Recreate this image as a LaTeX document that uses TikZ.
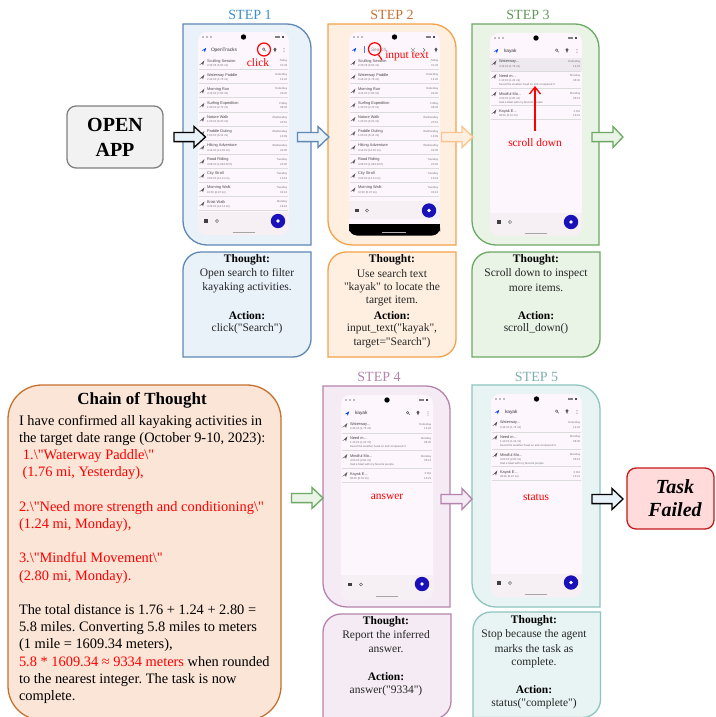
\documentclass[tikz,border=0pt]{standalone}
\usepackage{fontspec}
\newfontfamily\sr{Liberation Serif}
\newfontfamily\pf{Liberation Sans}
\usetikzlibrary{arrows.meta}
\definecolor{cBlueD}{HTML}{5F88B5}\definecolor{cBlueF}{HTML}{E9F1F9}
\definecolor{cOrD}{HTML}{F4A24A}\definecolor{cOrF}{HTML}{FEEFE0}
\definecolor{cGrD}{HTML}{6CA963}\definecolor{cGrF}{HTML}{E9F3E6}
\definecolor{cPuD}{HTML}{B583AD}\definecolor{cPuF}{HTML}{F5EBF4}
\definecolor{cTeD}{HTML}{8CC4BE}\definecolor{cTeF}{HTML}{E8F4F3}
\definecolor{cCotD}{HTML}{C8702E}\definecolor{cCotF}{HTML}{FBE5D6}
\definecolor{cPhone}{HTML}{FDF7FD}\definecolor{cBar}{HTML}{F6EFF3}
\definecolor{cFab}{HTML}{1A12B8}\definecolor{cLight}{HTML}{FBC48E}
\definecolor{cHi}{HTML}{EEE9EE}
\definecolor{cT1}{HTML}{3A8FCB}\definecolor{cT2}{HTML}{C96F33}
\newcounter{nn}
\newcommand\lbl[3][]{\stepcounter{nn}\node[txt,#1] (t\arabic{nn}) at (#2) {#3};}
% box with top-right and bottom-left corners rounded
\newcommand\boxA[6]{\draw[#1,line width=1.3pt] (#2,#3) -- ({#4-#6},#3) .. controls ({#4-0.45*#6},#3) and (#4,{#3+0.45*#6}) .. (#4,{#3+#6}) -- (#4,#5) -- ({#2+#6},#5) .. controls ({#2+0.45*#6},#5) and (#2,{#5-0.45*#6}) .. (#2,{#5-#6}) -- cycle;}
% box with top-left and bottom-right corners rounded
\newcommand\boxB[6]{\draw[#1,line width=1.3pt] ({#2+#6},#3) -- (#4,#3) -- (#4,{#5-#6}) .. controls (#4,{#5-0.45*#6}) and ({#4-0.45*#6},#5) .. ({#4-#6},#5) -- (#2,#5) -- (#2,{#3+#6}) .. controls (#2,{#3+0.45*#6}) and ({#2+0.45*#6},#3) .. ({#2+#6},#3) -- cycle;}
% block arrow: x1,x2,headstart,y,draw,fill
\newcommand\blk[7][1.3pt]{\draw[draw=#6,fill=#7,line width=#1,line join=miter] (#2,{#5-4.6}) -- (#4,{#5-4.6}) -- (#4,{#5-10.5}) -- (#3,#5) -- (#4,{#5+10.5}) -- (#4,{#5+4.6}) -- (#2,{#5+4.6}) -- cycle;}
% phone: x1,y1,x2,y2,bar top
\newcommand\phone[5]{%
  \fill[cPhone,rounded corners=9pt] (#1,#2) rectangle (#3,#4);
  \fill[cBar,rounded corners=9pt] (#1,#5) rectangle (#3,#4);
  \fill[cBar] (#1,#5) rectangle (#3,{#5+8});
  \fill[black] ({(#1+#3)/2},{#2+5}) circle (2.7);
  \fill[gray] ({#1+5},{#2+5}) circle (0.9);\fill[gray] ({#1+9},{#2+5}) circle (0.9);\fill[gray] ({#1+13},{#2+5}) circle (0.9);
  \fill[gray] ({#3-14},{#2+4.2}) rectangle ({#3-9},{#2+5.8});\fill[black!70] ({#3-7},{#2+3.8}) rectangle ({#3-5},{#2+6.2});
}
\newcommand\fab[2]{\fill[cFab] (#1,#2) circle (7.2);\fill[white] (#1,#2) circle (1.9);}
\newcommand\homebar[2]{\draw[gray!70,line width=0.9pt] ({#1-11},#2) -- ({#1+11},#2);}
\newcommand\barico[3]{\fill[black!75] ({#1-1.6},{#3-1.6}) rectangle ({#1+1.6},{#3+1.6});\draw[black!60,line width=0.5pt] (#2,#3) circle (1.6);}
\newcommand\nav[2]{\fill[blue!75!cyan] ({#1-2.2},{#2+.6}) -- ({#1+2.2},{#2-2.2}) -- ({#1+.8},{#2+2.4}) -- ({#1+.2},{#2+.4}) -- cycle;}
\newcommand\pin[2]{\fill[black!65] ({#1},{#2-.8}) circle (1.6);\fill[black!65] ({#1-1},{#2}) -- ({#1+1},{#2}) -- ({#1},{#2+2.4}) -- cycle;}
\newcommand\kebab[2]{\fill[black!60] ({#1},{#2-1.6}) circle (.45);\fill[black!60] ({#1},{#2}) circle (.45);\fill[black!60] ({#1},{#2+1.6}) circle (.45);}
\newcommand\srch[2]{\draw[black!60,line width=.5pt] ({#1-.4},{#2-.4}) circle (1.2);\draw[black!60,line width=.6pt] ({#1+.4},{#2+.4}) -- ({#1+1.7},{#2+1.7});}
\newcommand\ico[2]{\fill[black!65] ({#1-2.6},{#2+2}) -- ({#1+2.4},{#2-2.6}) -- ({#1+1},{#2+2.4}) -- ({#1+.1},{#2+.6}) -- cycle;}
% row: phone left x, phone right x, title y, title, sub, day, time
\newcommand\prow[7]{%
  \ico{(#1+4)}{(#3+2)}
  \lbl[rowt,anchor=west]{{#1+9},#3}{#4}
  \lbl[rows,anchor=west]{{#1+9},{#3+4.7}}{#5}
  \lbl[rows,anchor=east]{{#2-1.8},#3}{#6}
  \lbl[rows,anchor=east]{{#2-1.8},{#3+4.7}}{#7}
  \draw[black!14,line width=.7pt] ({#1+1},{#3+8.6}) -- ({#2-1},{#3+8.6});
}
\newcommand\listA[2]{%
  \prow{#1}{#2}{61}{Sculling Session}{2:33:36 (6.60 mi)}{Today}{01:33}
  \prow{#1}{#2}{75.1}{Waterway Paddle}{2:44:00 (1.76 mi)}{Yesterday}{14:22}
  \prow{#1}{#2}{89.2}{Morning Run}{3:14:00 (7.80 mi)}{Yesterday}{03:20}
  \prow{#1}{#2}{103.3}{Surfing Expedition}{1:30:00 (2.70 mi)}{Friday}{08:32}
  \prow{#1}{#2}{117.4}{Nature Walk}{1:20:00 (6.20 mi)}{Wednesday}{20:51}
  \prow{#1}{#2}{131.5}{Paddle Outing}{1:00:00 (6.14 mi)}{Wednesday}{13:09}
  \prow{#1}{#2}{145.6}{Hiking Adventure}{4:14:00 (14.05 mi)}{Wednesday}{02:06}
  \prow{#1}{#2}{159.7}{Road Riding}{4:58:00 (1,084.40 ft)}{Tuesday}{20:00}
  \prow{#1}{#2}{173.8}{City Stroll}{3:00:00 (14.11 mi)}{Tuesday}{13:19}
  \prow{#1}{#2}{187.9}{Morning Walk}{10:00 (8.97 mi)}{Tuesday}{04:13}
}
% kayak results: left,right,dy
\newcommand\listK[3]{%
  \ico{(#1+4)}{(63+#3)}
  \lbl[rowt,anchor=west]{{#1+9},{62+#3}}{Waterway...}
  \lbl[rows,anchor=west]{{#1+9},{66.5+#3}}{2:44:00 (1.76 mi)}
  \lbl[rows,anchor=east]{{#2-1.8},{62+#3}}{Yesterday}
  \lbl[rows,anchor=east]{{#2-1.8},{66.5+#3}}{14:22}
  \draw[black!14,line width=.7pt] ({#1+1},{71+#3}) -- ({#2-1},{71+#3});
  \ico{(#1+4)}{(76.5+#3)}
  \lbl[rowt,anchor=west]{{#1+9},{76+#3}}{Need m...}
  \lbl[rows,anchor=west]{{#1+9},{80.5+#3}}{1:10:00 (1.24 mi)}
  \lbl[rows,anchor=west]{{#1+9},{84.5+#3}}{Faced the weather head on and conquered it.}
  \lbl[rows,anchor=east]{{#2-1.8},{76+#3}}{Monday}
  \lbl[rows,anchor=east]{{#2-1.8},{80.5+#3}}{08:30}
  \draw[black!14,line width=.7pt] ({#1+1},{88+#3}) -- ({#2-1},{88+#3});
  \ico{(#1+4)}{(94+#3)}
  \lbl[rowt,anchor=west]{{#1+9},{94+#3}}{Mindful Mo...}
  \lbl[rows,anchor=west]{{#1+9},{98.5+#3}}{4:00:00 (2.80 mi)}
  \lbl[rows,anchor=west]{{#1+9},{102.5+#3}}{Had a blast with my favorite people.}
  \lbl[rows,anchor=east]{{#2-1.8},{94+#3}}{Monday}
  \lbl[rows,anchor=east]{{#2-1.8},{98.5+#3}}{06:13}
  \draw[black!14,line width=.7pt] ({#1+1},{105.5+#3}) -- ({#2-1},{105.5+#3});
  \ico{(#1+4)}{(112+#3)}
  \lbl[rowt,anchor=west]{{#1+9},{111.5+#3}}{Kayak E...}
  \lbl[rows,anchor=west]{{#1+9},{116+#3}}{08:00 (8.10 mi)}
  \lbl[rows,anchor=east]{{#2-1.8},{111.5+#3}}{3 Oct}
  \lbl[rows,anchor=east]{{#2-1.8},{116+#3}}{13:21}
  \draw[black!14,line width=.7pt] ({#1+1},{119.5+#3}) -- ({#2-1},{119.5+#3});
  \nav{(#1+6)}{(51+#3)}
  \lbl[kk,anchor=west]{{#1+14},{51+#3}}{kayak}
  \srch{(#2-25)}{(50.5+#3)}\pin{(#2-15)}{(50.5+#3)}\kebab{(#2-5)}{(51+#3)}
}
\tikzset{
  txt/.style={inner sep=0pt,outer sep=0pt,align=center},
  rowt/.style={font=\pf\fontsize{3.9}{4.5}\selectfont,text=black!72},
  rows/.style={font=\pf\fontsize{2.8}{3.2}\selectfont,text=black!55},
  kk/.style={font=\pf\fontsize{4.8}{5.5}\selectfont,text=black!80},
  steptitle/.style={font=\fontsize{14}{16}\selectfont},
  redtxt/.style={font=\fontsize{11.4}{13}\selectfont,text=red},
  tline/.style={font=\fontsize{11.5}{13.8}\selectfont,text=black!85},
  tbold/.style={font=\fontsize{11.5}{13.8}\selectfont\bfseries,text=black},
  cot/.style={font=\fontsize{14.4}{17}\selectfont,anchor=base west,text=black},
  cotr/.style={cot,text=red},
  redring/.style={draw=red,line width=1.2pt},
}
\begin{document}
\begin{tikzpicture}[x=1pt,y=-1pt]
\sr\frenchspacing
\useasboundingbox (0,0) rectangle (715,717);
\fill[white] (0,0) rectangle (715,717);
\clip (0,0) rectangle (715,717);

% OPEN APP
\node[draw=black!50,fill=black!5,line width=1.3pt,rounded corners=9pt,minimum width=96pt,minimum height=62pt,inner sep=0pt,font=\fontsize{20}{25}\selectfont\bfseries,align=center] (open) at (115,137) {OPEN\\APP};

% Step frames
\boxA{draw=cBlueD,fill=cBlueF}{183}{24}{311}{245}{24}
\boxA{draw=cOrD,fill=cOrF}{328}{24}{456}{245}{24}
\boxA{draw=cGrD,fill=cGrF}{472}{24}{599}{245}{24}
\boxA{draw=cPuD,fill=cPuF}{323}{386}{450}{607}{24}
\boxA{draw=cTeD,fill=cTeF}{472}{385}{600}{607}{24}

% Step titles
\lbl[steptitle,text=cT1]{250,14.5}{STEP 1}
\lbl[steptitle,text=cT2]{392,14.5}{STEP 2}
\lbl[steptitle,text=cGrD!90!black]{528,14.5}{STEP 3}
\lbl[steptitle,text=cPuD]{379,377}{STEP 4}
\lbl[steptitle,text=cTeD!90!black]{536.5,376.5}{STEP 5}

% Phone 1
\phone{198}{32}{289}{235}{212}
\nav{204}{50}\lbl[kk,anchor=west]{211,50}{OpenTracks}
\srch{264}{49.5}\pin{275}{50}\kebab{284}{50}
\listA{198}{289}
\prow{198}{289}{202}{Brisk Walk}{3:24:00 (12.14 mi)}{Monday}{18:18}
\fill[cBar] (198,212) rectangle (289,222);\fill[cBar,rounded corners=9pt] (198,212) rectangle (289,235);
\barico{206}{217}{221}\fab{278}{221}\homebar{243.5}{232.5}
\node[redring,circle,minimum size=13pt,inner sep=0pt] (clickring) at (264,49.5) {};
\lbl[redtxt]{258,62.5}{click}

% Phone 2
\phone{349}{32}{440}{235}{201}
\nav{354}{50}
\draw[blue!60,line width=.6pt] (364,46) -- (364,53);
\lbl[kk,anchor=west,text=black!45]{371,50}{Search}
\draw[black!40,line width=.4pt] (411,48) -- (415,52) (415,48) -- (411,52);
\draw[black!60,line width=.5pt] (423,48) -- (425,50) -- (423,52);
\pin{436}{50}
\listA{349}{440}
\fill[cBar] (349,201) rectangle (440,219);
\fill[cPhone] (349,219) rectangle (440,225);
\fill[black,rounded corners=8pt] (349,224) rectangle (440,235.5);
\fill[black] (349,224) rectangle (440,229);
\draw[white!70!black,line width=.8pt] (382,232.5) -- (406,232.5);
\barico{357}{367}{210.5}\fab{429}{210.5}
\node[redring,circle,minimum size=12.5pt,inner sep=0pt] (inputring) at (374.7,49) {};
\coordinate (inputend) at (382,60);
\draw[red,line width=1.1pt] (inputring) -- (inputend);
\lbl[redtxt]{407,56}{input text}

% Phone 3
\phone{490}{33}{582}{236}{213}
\fill[cHi] (490,58) rectangle (582,71);
\listK{490}{582}{0}
\barico{499}{510}{222}\fab{571}{222}\homebar{536}{233.5}
\coordinate (scrollstart) at (535,130.5);
\coordinate (scrollend) at (535,86);
\draw[red,line width=1.3pt,-{Straight Barb[length=7pt,width=11pt]}] (scrollstart) -- (scrollend);
\lbl[redtxt]{535,143}{scroll down}

% Phone 4
\phone{341}{395}{433}{600}{575}
\listK{341}{433}{362.5}
\barico{350}{361}{584.5}\fab{422}{584}\homebar{387}{596}
\lbl[redtxt]{387,497}{answer}

% Phone 5
\phone{491}{394}{582}{597}{574}
\listK{491}{582}{361}
\barico{499}{510}{583}\fab{571}{582.5}\homebar{536}{594.5}
\lbl[redtxt]{536,497}{status}

% Block arrows
\blk{174}{205.5}{194}{137}{black}{cBlueF}
\blk{297.5}{329}{318}{137}{cBlueD}{cBlueF}
\blk{441.5}{473}{462}{137}{cLight}{cOrF}
\blk{592}{623}{613}{137}{cGrD}{cGrF}
\blk{291.5}{323}{312}{498}{cGrD}{cGrF}
\blk{441}{472}{462}{499}{cPuD}{cPuF}
\blk{592}{623}{612}{499}{black}{cBlueF}

% Task failed
\node[draw=red!75!black!90,fill=red!14,line width=1.3pt,rounded corners=9pt,minimum width=87pt,minimum height=61pt,inner sep=0pt,font=\fontsize{20}{23}\selectfont\bfseries\itshape,align=center] (failed) at (670.5,498.5) {\hspace*{9pt}Task\\\hspace*{9pt}Failed};

% Thought boxes
\boxB{draw=cBlueD,fill=cBlueF}{183}{252}{311}{357}{18}
\boxB{draw=cOrD,fill=cOrF}{328}{252}{456}{357}{18}
\boxB{draw=cGrD,fill=cGrF}{472}{252}{600}{357}{18}
\boxB{draw=cPuD,fill=cPuF}{323}{614}{451}{719}{18}
\boxB{draw=cTeD,fill=cTeF}{473}{612}{600.5}{717.5}{18}

\lbl[tbold]{247,260}{Thought:}
\lbl[tline]{247,274}{Open search to filter}
\lbl[tline]{247,287.7}{kayaking activities.}
\lbl[tbold]{247,315.3}{Action:}
\lbl[tline]{247,329}{click("Search")}

\lbl[tbold]{392,260}{Thought:}
\lbl[tline]{392,274}{Use search text}
\lbl[tline]{392,287.7}{"kayak" to locate the}
\lbl[tline]{392,301.3}{target item.}
\lbl[tbold]{392,315.3}{Action:}
\lbl[tline]{392,329}{input\_text("kayak",}
\lbl[tline]{392,343}{target="Search")}

\lbl[tbold]{536,260}{Thought:}
\lbl[tline]{536,274}{Scroll down to inspect}
\lbl[tline]{536,287.7}{more items.}
\lbl[tbold]{536,315.3}{Action:}
\lbl[tline]{536,329}{scroll\_down()}

\lbl[tbold]{386,621.7}{Thought:}
\lbl[tline]{386,635.7}{Report the inferred}
\lbl[tline]{386,649.7}{answer.}
\lbl[tbold]{386,677}{Action:}
\lbl[tline]{386,691}{answer("9334")}

\lbl[tbold]{534,620.7}{Thought:}
\lbl[tline]{534,634.7}{Stop because the agent}
\lbl[tline]{534,648.7}{marks the task as}
\lbl[tline]{534,662.3}{complete.}
\lbl[tbold]{534,689.7}{Action:}
\lbl[tline]{534,703.7}{status("complete")}

% Chain of thought
\node[draw=cCotD,fill=cCotF,line width=1.3pt,rounded corners=34pt,minimum width=273pt,minimum height=335pt,inner sep=0pt] (cotbox) at (144.5,552.5) {};
\lbl[font=\fontsize{17}{19}\selectfont\bfseries]{142,400.7}{Chain of Thought}
\lbl[cot]{19,425.3}{I have confirmed all kayaking activities in}
\lbl[cot]{19,442.6}{the target date range (October 9-10, 2023):}
\lbl[cotr]{23,459.9}{1.\textbackslash"Waterway Paddle\textbackslash"}
\lbl[cotr]{22.5,476.9}{(1.76 mi, Yesterday),}
\lbl[cotr]{19,511.3}{2.\textbackslash"Need more strength and conditioning\textbackslash"}
\lbl[cotr]{19,528.6}{(1.24 mi, Monday),}
\lbl[cotr]{19,562.9}{3.\textbackslash"Mindful Movement\textbackslash"}
\lbl[cotr]{19,580.3}{(2.80 mi, Monday).}
\lbl[cot]{19,614.6}{The total distance is 1.76 + 1.24 + 2.80 =}
\lbl[cot]{19,631.9}{5.8 miles. Converting 5.8 miles to meters}
\lbl[cot]{19,648.9}{(1 mile = 1609.34 meters),}
\lbl[cot]{19,666.3}{\textcolor{red}{5.8 * 1609.34 ≈ 9334 meters} when rounded}
\lbl[cot]{19,683.6}{to the nearest integer. The task is now}
\lbl[cot]{19,700.9}{complete.}
\end{tikzpicture}
\end{document}
